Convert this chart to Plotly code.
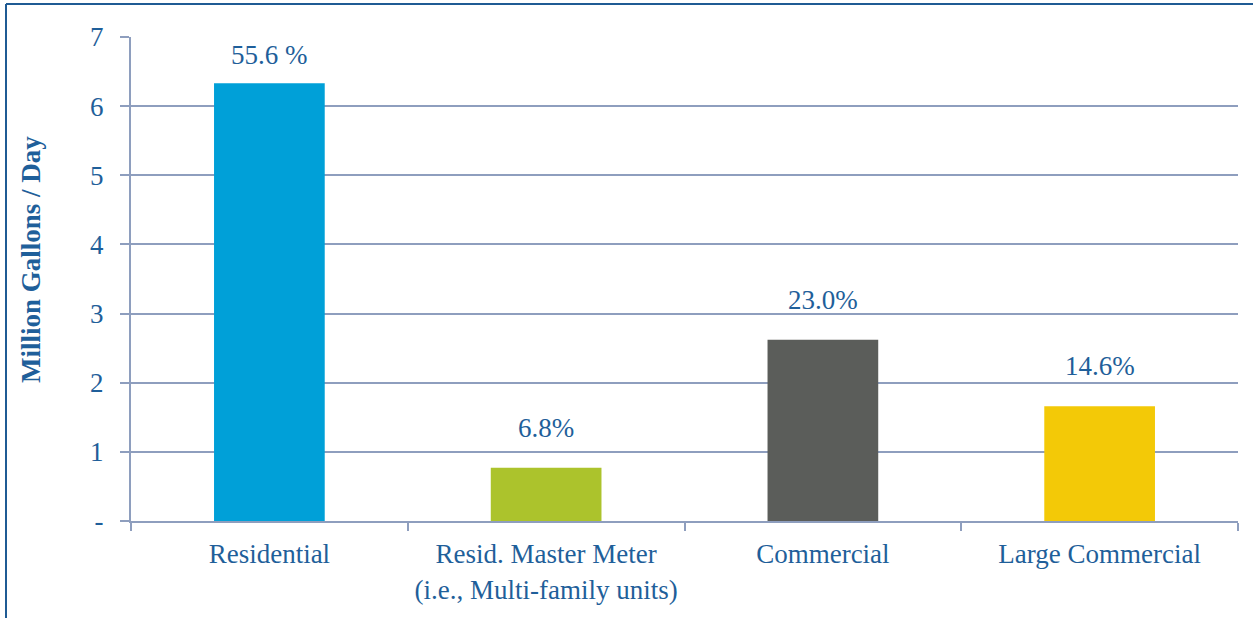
import plotly.graph_objects as go

# Water demand by customer class
categories = ["Residential", "Resid. Master Meter<br>(i.e., Multi-family units)",
              "Commercial", "Large Commercial"]
mgd = [6.33, 0.77, 2.62, 1.66]
share_labels = ["55.6 %", "6.8%", "23.0%", "14.6%"]
bar_colors = ["#00a0d8", "#acc32c", "#5b5d5a", "#f3c907"]
y_ticks = [0, 1, 2, 3, 4, 5, 6, 7]
y_tick_text = ["-", "1", "2", "3", "4", "5", "6", "7"]

W, H = 1253, 618
ML, MR, MT, MB = 131, 15, 37, 97
TEXT = "#1f5f9a"
GRID = "#8e9ebe"
FONT = "Liberation Serif"
FS = 27
Y_MAX = 7

fig = go.Figure(go.Bar(
    x=categories, y=mgd, marker_color=bar_colors, marker_line_width=0,
    width=0.4,
))

pw = W - ML - MR
ph = H - MT - MB
px_per_unit = ph / Y_MAX

# value labels sit above each bar, pulled down when close to the top of the plot
for cat, val, lab in zip(categories, mgd, share_labels):
    room = (Y_MAX - val) * px_per_unit - 18
    fig.add_annotation(x=cat, y=val, text=lab, showarrow=False,
                       yanchor="middle", yshift=min(40, room),
                       font=dict(family=FONT, size=FS, color=TEXT))

# rotated axis title
fig.add_annotation(xref="paper", yref="paper", x=(31 - ML) / pw, y=(521 - 260) / ph,
                   text="<b>Million Gallons / Day</b>", textangle=-90, showarrow=False,
                   xanchor="center", yanchor="middle",
                   font=dict(family=FONT, size=FS, color=TEXT))

# frame lines along the top and left edges of the figure
x_left = (6 - ML) / pw
y_top = 1 + (MT - 4) / ph
y_bottom = -(MB) / ph
fig.add_shape(type="line", xref="paper", yref="paper", x0=x_left, x1=(W - ML) / pw,
              y0=y_top, y1=y_top, line=dict(color="#1f5b94", width=2))
fig.add_shape(type="line", xref="paper", yref="paper", x0=x_left, x1=x_left,
              y0=y_top, y1=y_bottom - 0.05, line=dict(color="#1f5b94", width=2))

fig.update_layout(
    width=W, height=H,
    margin=dict(l=ML, r=MR, t=MT, b=MB, pad=0),
    paper_bgcolor="white", plot_bgcolor="white",
    showlegend=False,
    font=dict(family=FONT, size=FS, color=TEXT),
    xaxis=dict(
        type="category", showline=True, linecolor=GRID, linewidth=2,
        ticks="outside", tickson="boundaries", ticklen=8, tickcolor=GRID, tickwidth=2,
        showgrid=False, tickfont=dict(family=FONT, size=FS, color=TEXT),
        ticklabelstandoff=8,
    ),
    yaxis=dict(
        range=[0, Y_MAX], tickvals=y_ticks, ticktext=y_tick_text,
        showline=True, linecolor=GRID, linewidth=2,
        ticks="outside", ticklen=9, tickcolor=GRID, tickwidth=2,
        showgrid=True, gridcolor=GRID, gridwidth=2, zeroline=False,
        tickfont=dict(family=FONT, size=FS, color=TEXT),
        ticklabelstandoff=11,
    ),
)

fig.write_html("out.html")
